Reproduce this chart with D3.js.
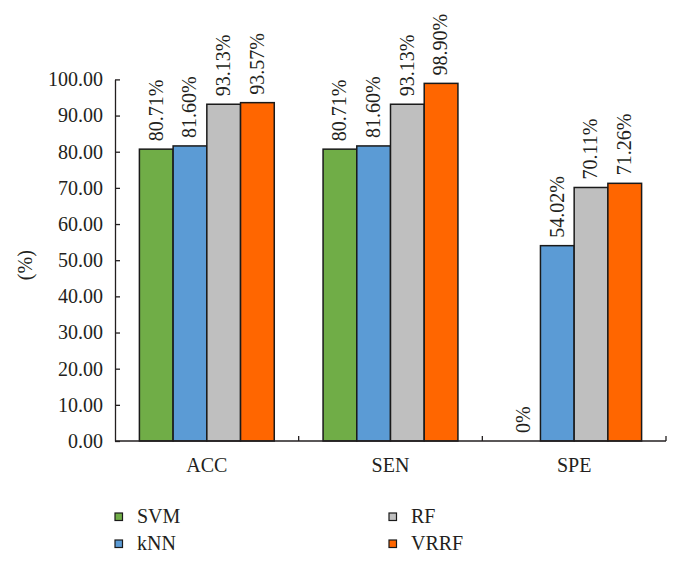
<!DOCTYPE html>
<html><head><meta charset="utf-8">
<script src="https://cdn.jsdelivr.net/npm/d3@7"></script>
<style>body{margin:0;background:#fff}svg{display:block}</style>
</head><body>
<script>
const categories = ["ACC", "SEN", "SPE"];
const seriesNames = ["SVM", "kNN", "RF", "VRRF"];
const svmValues  = [80.71, 80.71, 0];
const knnValues  = [81.60, 81.60, 54.02];
const rfValues   = [93.13, 93.13, 70.11];
const vrrfValues = [93.57, 98.90, 71.26];
const valueLabels = [
  ["80.71%", "81.60%", "93.13%", "93.57%"],
  ["80.71%", "81.60%", "93.13%", "98.90%"],
  ["0%", "54.02%", "70.11%", "71.26%"]
];
const yTicks = [0, 10, 20, 30, 40, 50, 60, 70, 80, 90, 100];
const colors = ["#70AD47", "#5B9BD5", "#BFBFBF", "#FF6600"];

const series = [svmValues, knnValues, rfValues, vrrfValues];
const W = 680, H = 563;
const margin = {left: 115, right: 14, top: 79.4, bottom: 122};
const font = "'Liberation Serif', 'Times New Roman', serif";
const ink = "#231f20";

const svg = d3.select("body").append("svg").attr("width", W).attr("height", H)
  .style("font-family", font);

const x0 = d3.scaleBand().domain(categories).range([margin.left, W - margin.right]).padding(0);
const x1 = d3.scaleBand().domain(seriesNames).range([24.4, x0.bandwidth() - 24.4]).padding(0);
const y = d3.scaleLinear().domain([0, 100]).range([H - margin.bottom, margin.top]);

// bars
const groups = svg.append("g").selectAll("g").data(categories).join("g")
  .attr("transform", d => `translate(${x0(d)},0)`);
groups.each(function(cat, ci) {
  const g = d3.select(this);
  seriesNames.forEach((s, si) => {
    const v = series[si][ci];
    if (v > 0) {
      g.append("rect")
        .attr("x", x1(s)).attr("y", y(v))
        .attr("width", x1.bandwidth()).attr("height", y(0) - y(v))
        .attr("fill", colors[si]).attr("stroke", "#1a1a1a").attr("stroke-width", 1.5);
    }
    const cx = x1(s) + x1.bandwidth() / 2;
    const ty = y(v) - 8;
    g.append("text")
      .attr("transform", `translate(${cx},${ty}) rotate(-90)`)
      .attr("dy", "0.32em")
      .attr("text-anchor", "start")
      .attr("font-size", 20).attr("fill", ink)
      .text(valueLabels[ci][si]);
  });
});

// y axis
const yAxis = d3.axisLeft(y).tickValues(yTicks).tickSizeInner(-5).tickSizeOuter(0)
  .tickFormat(d => d3.format(".2f")(d)).tickPadding(12);
const gy = svg.append("g").attr("transform", `translate(${margin.left},0)`).call(yAxis);
gy.select(".domain").attr("stroke", ink).attr("stroke-width", 1.3);
gy.selectAll(".tick line").attr("stroke", ink).attr("stroke-width", 1.3);
gy.selectAll(".tick text").attr("font-size", 20).attr("font-family", font).attr("fill", ink);

// x axis
const gx = svg.append("g").attr("transform", `translate(0,${y(0)})`);
gx.append("line").attr("x1", margin.left).attr("x2", W - margin.right)
  .attr("y1", 0).attr("y2", 0).attr("stroke", ink).attr("stroke-width", 1.3);
categories.forEach(c => {
  const xe = x0(c) + x0.bandwidth();
  gx.append("line").attr("x1", xe).attr("x2", xe).attr("y1", 0).attr("y2", -5)
    .attr("stroke", ink).attr("stroke-width", 1.3);
  gx.append("text").attr("x", x0(c) + x0.bandwidth() / 2).attr("y", 31)
    .attr("text-anchor", "middle").attr("font-size", 20).attr("fill", ink).text(c);
});

// y title
svg.append("text")
  .attr("transform", `translate(25,${(y(0) + y(100)) / 2 + 5}) rotate(-90)`)
  .attr("text-anchor", "middle").attr("dy", "0.35em")
  .attr("font-size", 20).attr("fill", ink).text("(%)");

// legend
const legendPos = [
  {x: 115, y: 513}, {x: 115, y: 540}, {x: 389, y: 513}, {x: 389, y: 540}
];
seriesNames.forEach((s, i) => {
  const p = legendPos[i];
  svg.append("rect").attr("x", p.x).attr("y", p.y).attr("width", 7.5).attr("height", 7.5)
    .attr("fill", colors[i]).attr("stroke", "#1a1a1a").attr("stroke-width", 1.2);
  svg.append("text").attr("x", p.x + 22).attr("y", p.y + 9.5)
    .attr("font-size", 20).attr("fill", ink).text(s);
});
</script>
</body></html>
